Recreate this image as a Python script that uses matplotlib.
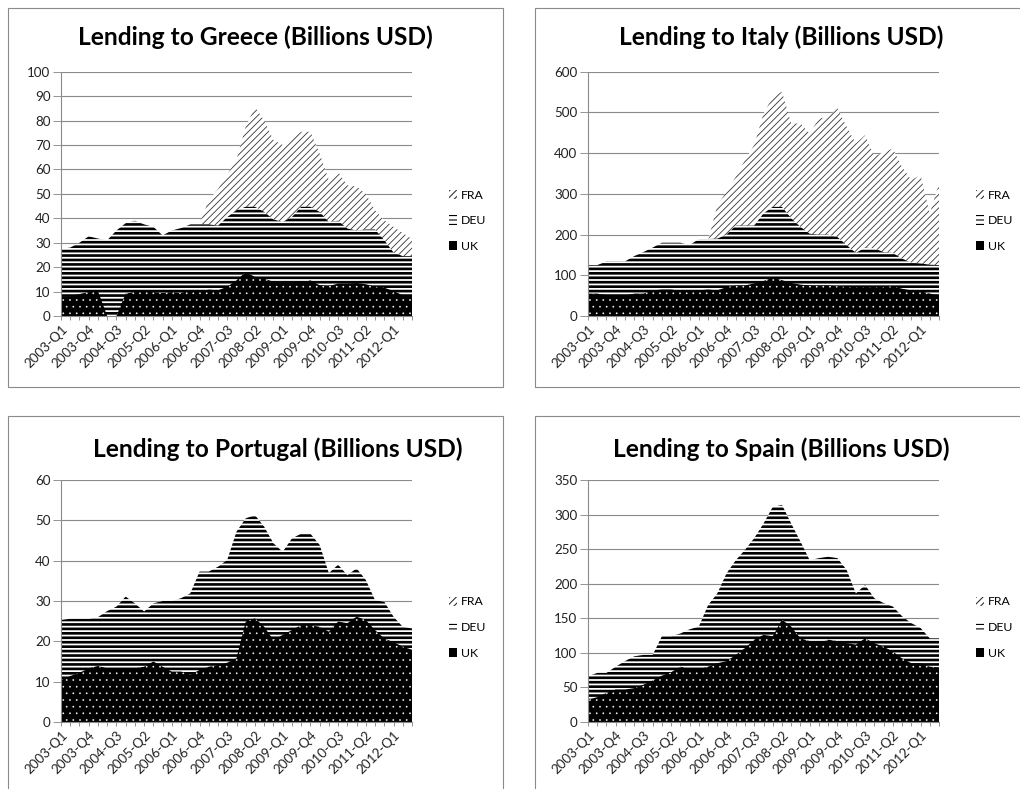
import numpy as np
import matplotlib
matplotlib.use("Agg")
import matplotlib.pyplot as plt
from matplotlib.patches import Rectangle, Patch

plt.rcParams['font.family'] = ['Lato', 'DejaVu Sans']

quarters = [f"{y}-Q{q}" for y in range(2003, 2013) for q in range(1, 5)][:39]
series_names = ["FRA", "DEU", "UK"]

# ---- Greece ----
greece_fra = [14, 15, 16, 17, 18, 19, 20, 21, 22, 24, 26, 28, 30, 33, 35, 38, 47.4, 52, 58, 64,
              77.5, 85.6, 80, 72, 70, 73.4, 75.4, 75.4, 66.5, 55.6, 59, 53.5, 53, 50, 43.3, 39.2,
              36.5, 34, 31.5]
greece_deu = [27.5, 28, 30, 32.6, 31.7, 31, 35, 38, 39, 37.5, 36.5, 33, 35, 36, 37.5, 37.5, 37.5,
              37, 40.5, 43.3, 44.7, 44.7, 42.6, 39.5, 38.5, 40.5, 44.7, 44.7, 42.6, 38.5, 39, 35.8,
              35, 35.4, 35.4, 31, 26, 24.5, 24.5]
greece_uk = [8, 8, 9, 9.8, 10.2, 0, 0, 9.2, 9.8, 10.2, 9.8, 9.5, 9.8, 9.5, 10.5, 9.8, 10.8, 10.5,
             12, 14.6, 18, 16, 15.3, 14, 13.5, 13.5, 13.5, 14.6, 12.6, 12.2, 13.3, 13.3, 13.5, 13,
             12, 11.6, 10.2, 8.5, 8]

# ---- Italy ----
italy_fra = [95, 100, 105, 110, 115, 120, 130, 140, 150, 155, 160, 165, 175, 185, 272, 305, 342,
             383, 420, 497, 538, 551, 473, 473, 448, 485, 489, 510, 465, 424, 444, 391, 403, 411,
             366, 334, 346, 252, 325]
italy_deu = [125, 125, 134, 134, 134, 147, 157, 168, 180, 180, 180, 174, 189, 189, 190, 200, 222,
             222, 222, 252, 268, 268, 240, 219, 202, 200, 200, 194, 174, 155, 168, 166, 157, 155,
             141, 131, 129, 126, 125]
italy_uk = [55, 55, 51, 50, 50, 55, 55, 63, 65, 65, 62, 61, 63, 65, 63, 71, 75, 75, 80, 86, 94, 88,
            81, 77, 75, 75, 75, 73, 71, 70, 70, 70, 71, 73, 67, 63, 61, 55, 51]

# ---- Portugal ----
portugal_fra = [8, 8, 9, 9, 9, 10, 10, 10, 11, 11, 11, 12, 12, 12, 13, 14, 15, 16, 17, 18, 19, 19,
                18, 17, 17, 17, 17, 16, 15, 14, 13, 12, 12, 11, 10, 9, 9, 8, 8]
portugal_deu = [25.3, 25.6, 25.6, 25.6, 26, 27.5, 28.6, 31.1, 29.4, 27.4, 29.4, 30, 30, 30.7, 31.9,
                37.3, 37.3, 38.5, 40.2, 47.2, 50.5, 51.3, 48.4, 44.3, 42.2, 45.5, 46.7, 46.7, 43.9,
                36.9, 39, 36.4, 38.1, 35.2, 30.2, 29.8, 26.1, 23.6, 23.2]
portugal_uk = [10.4, 11.4, 12.2, 13.3, 13.9, 13.3, 13.3, 13.3, 13.3, 13.7, 15, 13.7, 12.5, 12.5,
               11.7, 12.9, 13.7, 14.1, 14.7, 15.8, 24.9, 25.7, 23.6, 20.3, 21.6, 22.8, 24, 24, 23.6,
               22.4, 24.9, 24.5, 26.1, 25.3, 22.8, 20.7, 19.8, 18.7, 17.9]

# ---- Spain ----
spain_fra = [25, 27, 30, 33, 36, 40, 44, 48, 52, 56, 60, 64, 68, 72, 78, 85, 92, 98, 104, 110, 115,
             118, 112, 106, 100, 98, 96, 94, 90, 86, 84, 80, 76, 72, 68, 62, 58, 54, 52]
spain_deu = [66, 71, 71, 80, 88, 95, 97, 97, 124, 124, 128, 134, 138, 169, 186, 215, 234, 249, 266,
             287, 311, 314, 287, 261, 234, 237, 239, 237, 220, 186, 198, 179, 172, 167, 153, 143,
             136, 121, 121]
spain_uk = [32, 36, 42, 47, 47, 49, 54, 60, 67, 72, 80, 76, 76, 80, 85, 88, 97, 107, 119, 126, 124,
            148, 138, 121, 117, 114, 119, 117, 114, 112, 121, 114, 109, 102, 92, 85, 85, 80, 79]

panels = [
    ("Lending to Greece (Billions USD)", greece_fra, greece_deu, greece_uk, 100, 10,
     [61 / 1020, 473 / 789, 351 / 1020, 244.3 / 789], (255, 37)),
    ("Lending to Italy (Billions USD)", italy_fra, italy_deu, italy_uk, 600, 100,
     [588 / 1020, 473 / 789, 351 / 1020, 244.3 / 789], (781, 37)),
    ("Lending to Portugal (Billions USD)", portugal_fra, portugal_deu, portugal_uk, 60, 10,
     [61 / 1020, 67 / 789, 351 / 1020, 242 / 789], (278, 449)),
    ("Lending to Spain (Billions USD)", spain_fra, spain_deu, spain_uk, 350, 50,
     [588 / 1020, 67 / 789, 351 / 1020, 242 / 789], (781, 449)),
]

W, H = 1020, 789
fig = plt.figure(figsize=(W / 80, H / 80), dpi=80)

# chart borders (Excel chart area frames)
for (x0, y0, x1, y1) in [(7.5, 8, 503, 387), (535, 8, 1030, 387),
                         (7.5, 416, 503, 800), (535, 416, 1030, 800)]:
    fig.add_artist(Rectangle((x0 / W, 1 - y1 / H), (x1 - x0) / W, (y1 - y0) / H,
                             transform=fig.transFigure, fill=False,
                             edgecolor='#8a8a8a', linewidth=1.0))

styles = {
    "FRA": dict(hatch='////', hc='#333333', fc='white', hlw=0.75),
    "DEU": dict(hatch='---', hc='black', fc='white', hlw=2.4),
    "UK": dict(hatch='..', hc='white', fc='black', hlw=0.35),
}

grey = '#8a8a8a'
for title, fra, deu, uk, ymax, ystep, rect, tpos in panels:
    ax = fig.add_axes(rect)
    x = np.arange(len(quarters))
    for z, (name, vals) in enumerate(zip(series_names, [fra, deu, uk])):
        st = styles[name]
        with plt.rc_context({'hatch.linewidth': st['hlw']}):
            coll = ax.fill_between(x, 0, vals, facecolor=st['fc'], edgecolor=st['hc'],
                                   hatch=st['hatch'], linewidth=0, label=name, zorder=2 + z)
        if hasattr(coll, 'set_hatch_linewidth'):
            coll.set_hatch_linewidth(st['hlw'])
    ax.set_xlim(0, len(quarters) - 1)
    ax.set_ylim(0, ymax)
    ax.set_yticks(np.arange(0, ymax + ystep / 2, ystep))
    ax.set_xticks(x)
    ax.set_xticklabels([q if i % 3 == 0 else '' for i, q in enumerate(quarters)],
                       rotation=45, ha='right', rotation_mode='anchor')
    ax.yaxis.grid(True, color=grey, linewidth=1.0, zorder=0)
    ax.set_axisbelow(True)
    for s in ['top', 'right']:
        ax.spines[s].set_visible(False)
    for s in ['left', 'bottom']:
        ax.spines[s].set_color(grey)
        ax.spines[s].set_linewidth(1.0)
        ax.spines[s].set_zorder(10)
    ax.tick_params(axis='y', length=7, color=grey, labelsize=12, pad=2.5, labelcolor='#222222')
    ax.tick_params(axis='x', length=4, color=grey, labelsize=12, pad=2, labelcolor='#222222')

    # legend handles (Excel-style small pattern swatches)
    leg_handles = []
    for name in series_names:
        st = styles[name]
        if name == "UK":
            p = Patch(facecolor='black', edgecolor='black', linewidth=0, label=name)
        else:
            with plt.rc_context({'hatch.linewidth': st['hlw']}):
                p = Patch(facecolor='white', edgecolor=st['hc'], hatch=st['hatch'],
                          linewidth=0, label=name)
            if hasattr(p, 'set_hatch_linewidth'):
                p.set_hatch_linewidth(st['hlw'])
        leg_handles.append(p)
    ax.legend(handles=leg_handles, loc='center left', bbox_to_anchor=(1.105, 0.39),
              frameon=False, fontsize=11, handlelength=0.7, handleheight=0.8,
              handletextpad=0.3, labelspacing=1.2, borderaxespad=0, borderpad=0)
    fig.text(tpos[0] / W, 1 - tpos[1] / H, title, ha='center', va='center',
             fontsize=22, fontweight='bold', color='black')

fig.savefig("out.png", dpi=80)
